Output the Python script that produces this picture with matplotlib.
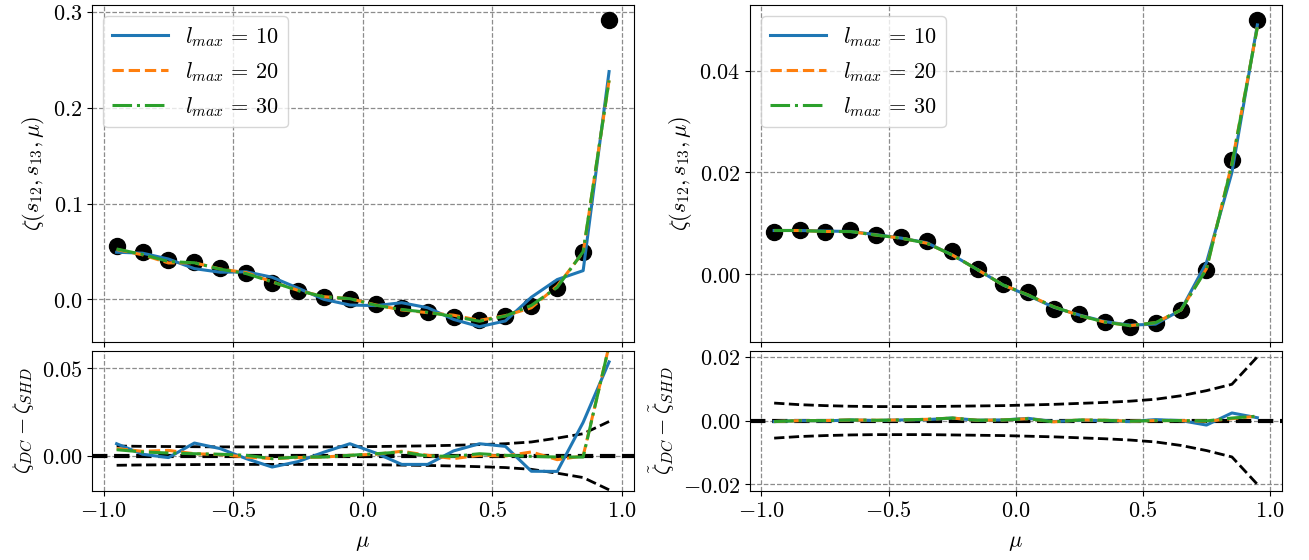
import matplotlib
matplotlib.use("Agg")
import matplotlib.pyplot as plt
import numpy as np
from matplotlib.ticker import MultipleLocator, FuncFormatter

plt.rcParams['mathtext.fontset'] = 'cm'
plt.rcParams['font.family'] = ['DejaVu Serif']
plt.rcParams['font.size'] = 16

# mu bins
mu = [-0.95, -0.85, -0.75, -0.65, -0.55, -0.45, -0.35, -0.25, -0.15, -0.05,
      0.05, 0.15, 0.25, 0.35, 0.45, 0.55, 0.65, 0.75, 0.85, 0.95]

# left: direct-count measurement (dots)
zeta_left = [0.0561, 0.0491, 0.0411, 0.0394, 0.0324, 0.0272, 0.0167, 0.0084, 0.0021, 0.0010,
             -0.0049, -0.0084, -0.0136, -0.0181, -0.0216, -0.0171, -0.0066, 0.0118, 0.0491, 0.2913]
# residuals DC - SHD for each l_max
res_left_10 = [0.0068, 0.0008, -0.0011, 0.0072, 0.0040, -0.0017, -0.0065, -0.0034, 0.0020, 0.0068,
               0.0015, -0.0050, -0.0050, 0.0027, 0.0068, 0.0053, -0.0089, -0.0090, 0.0190, 0.0535]
res_left_20 = [0.0040, 0.0025, 0.0030, 0.0011, 0.0006, -0.0008, -0.0017, -0.0011, -0.0008, 0.0002,
               0.0008, 0.0025, 0.0002, -0.0017, 0.0002, -0.0002, 0.0021, -0.0023, -0.0002, 0.0627]
res_left_30 = [0.0034, 0.0021, 0.0015, 0.0011, 0.0008, 0.0002, -0.0017, -0.0008, -0.0008, 0.0002,
               0.0011, 0.0021, -0.0002, -0.0004, 0.0011, 0.0002, -0.0004, -0.0008, -0.0008, 0.0627]
sigma_left = [0.0055, 0.0053, 0.0052, 0.0051, 0.0050, 0.0050, 0.0050, 0.0050, 0.0050, 0.0051,
              0.0052, 0.0054, 0.0056, 0.0059, 0.0063, 0.0068, 0.0078, 0.0100, 0.0125, 0.0195]

# right
zeta_right = [0.0083, 0.0086, 0.0084, 0.0086, 0.0078, 0.0073, 0.0065, 0.0046, 0.0010, -0.0019,
              -0.0035, -0.0068, -0.0079, -0.0093, -0.0103, -0.0095, -0.0070, 0.0009, 0.0224, 0.0499]
res_right_10 = [-0.0003, 0.0000, -0.0001, 0.0002, 0.0000, 0.0002, 0.0003, 0.0008, 0.0001, 0.0002,
                0.0007, -0.0003, 0.0001, 0.0000, -0.0003, 0.0003, 0.0000, -0.0014, 0.0024, 0.0009]
res_right_20 = [-0.0003, 0.0000, 0.0000, 0.0002, 0.0001, 0.0002, 0.0004, 0.0008, 0.0001, 0.0002,
                0.0006, -0.0004, 0.0002, 0.0001, -0.0002, 0.0000, 0.0000, -0.0002, 0.0006, 0.0014]
res_right_30 = [-0.0003, 0.0000, 0.0000, 0.0002, 0.0001, 0.0002, 0.0004, 0.0008, 0.0001, 0.0002,
                0.0006, -0.0004, 0.0002, 0.0001, -0.0002, 0.0000, 0.0000, -0.0001, 0.0008, 0.0014]
sigma_right = [0.0055, 0.0050, 0.0047, 0.0045, 0.0044, 0.0044, 0.0044, 0.0045, 0.0046, 0.0047,
               0.0049, 0.0051, 0.0054, 0.0057, 0.0061, 0.0067, 0.0078, 0.0094, 0.0114, 0.0200]

lmax = [10, 20, 30]
styles = [('C0', '-'), ('C1', '--'), ('C2', '-.')]


def fmt(nd):
    return FuncFormatter(lambda v, p: '$%.*f$' % (nd, v))


def panel(ax_top, ax_bot, zeta, res_list, sigma, ystep_top, nd_top, ystep_bot, ylabel_bot):
    zeta = np.array(zeta)
    sigma = np.array(sigma)
    ax_top.plot(mu, zeta, 'ko', ms=11.5)
    for (c, ls), l, r in zip(styles, lmax, res_list):
        ax_top.plot(mu, zeta - np.array(r), color=c, ls=ls, lw=2.2, label=r'$l_{max} \, = \, %d$' % l)
    ax_top.legend(loc='upper left', fontsize=16, handlelength=2.5)
    ax_top.set_ylabel(r'$\zeta(s_{12}, s_{13}, \mu)$')

    ax_bot.axhline(0, color='k', ls='--', lw=3)
    ax_bot.plot(mu, sigma, 'k--', lw=2)
    ax_bot.plot(mu, -sigma, 'k--', lw=2)
    for (c, ls), r in zip(styles, res_list):
        ax_bot.plot(mu, r, color=c, ls=ls, lw=2.2)
    ax_bot.set_ylabel(ylabel_bot)
    ax_bot.set_xlabel(r'$\mu$', labelpad=6)

    for ax in (ax_top, ax_bot):
        ax.grid(True, ls='--', color='0.55', lw=0.9)
        ax.xaxis.set_major_locator(MultipleLocator(0.5))
        ax.xaxis.set_major_formatter(fmt(1))
    ax_top.tick_params(labelbottom=False)
    ax_top.yaxis.set_major_locator(MultipleLocator(ystep_top))
    ax_top.yaxis.set_major_formatter(fmt(nd_top))
    ax_bot.yaxis.set_major_locator(MultipleLocator(ystep_bot))
    ax_bot.yaxis.set_major_formatter(fmt(2))


fig = plt.figure(figsize=(13.09, 5.6), dpi=100)
W, H = 1309, 560
axL = fig.add_axes([92 / W, (H - 342) / H, 541.7 / W, 337 / H])
axLb = fig.add_axes([92 / W, (H - 490.7) / H, 541.7 / W, 140.2 / H], sharex=axL)
axR = fig.add_axes([750 / W, (H - 342) / H, 531.5 / W, 337 / H])
axRb = fig.add_axes([750 / W, (H - 490.7) / H, 531.5 / W, 140.2 / H], sharex=axR)

panel(axL, axLb, zeta_left, [res_left_10, res_left_20, res_left_30], sigma_left,
      0.1, 1, 0.05, r'$\zeta_{DC} - \zeta_{SHD}$')
axLb.set_ylim(-0.02, 0.06)

panel(axR, axRb, zeta_right, [res_right_10, res_right_20, res_right_30], sigma_right,
      0.02, 2, 0.02, r'$\tilde{\zeta}_{DC} - \tilde{\zeta}_{SHD}$')

fig.savefig('out.png', dpi=100)
